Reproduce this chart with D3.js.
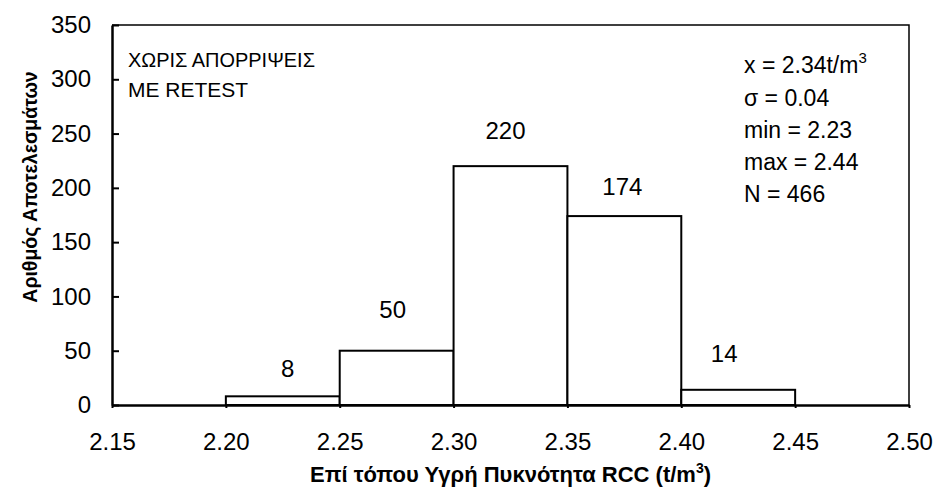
<!DOCTYPE html>
<html>
<head>
<meta charset="utf-8">
<script src="https://cdn.jsdelivr.net/npm/d3@7"></script>
<style>
  html, body { margin: 0; padding: 0; background: #fff; }
  svg text { font-family: "Liberation Sans", Arial, sans-serif; fill: #000; }
</style>
</head>
<body>
<svg id="chart" width="933" height="490"></svg>
<script>
// Histogram of in-situ wet density of RCC (bins of 0.05 t/m3)
const binStarts = [2.20, 2.25, 2.30, 2.35, 2.40];
const binWidth = 0.05;
const counts = [8, 50, 220, 174, 14];
const xTicks = [2.15, 2.20, 2.25, 2.30, 2.35, 2.40, 2.45, 2.50];
const yTicks = [0, 50, 100, 150, 200, 250, 300, 350];
const noteLines = ["ΧΩΡΙΣ ΑΠΟΡΡΙΨΕΙΣ", "ΜΕ  RETEST"];
const statLines = ["σ = 0.04", "min = 2.23", "max = 2.44", "N = 466"];

const svg = d3.select("#chart");
const margin = { left: 112, right: 24, top: 25, bottom: 85 };
const W = 933, H = 490;
const x = d3.scaleLinear().domain([2.15, 2.50]).range([margin.left, W - margin.right]);
const y = d3.scaleLinear().domain([0, 350]).range([H - margin.bottom, margin.top]);

const fs = 24;

// frame on the top and right
svg.append("path")
  .attr("d", `M${x(2.15)},${y(350)} H${x(2.50)} V${y(0)}`)
  .attr("fill", "none").attr("stroke", "#000").attr("stroke-width", 1.5);

// bars
const bins = binStarts.map((s, i) => ({ x0: s, x1: s + binWidth, n: counts[i] }));
svg.append("g").selectAll("rect").data(bins).join("rect")
  .attr("x", d => x(d.x0))
  .attr("y", d => y(d.n))
  .attr("width", d => x(d.x1) - x(d.x0))
  .attr("height", d => y(0) - y(d.n))
  .attr("fill", "#fff").attr("stroke", "#000").attr("stroke-width", 2);

// y axis
const yAxis = svg.append("g").attr("transform", `translate(${x(2.15)},0)`)
  .call(d3.axisLeft(y).tickValues(yTicks).tickSizeInner(-7).tickSizeOuter(0).tickPadding(21));
yAxis.select(".domain").attr("stroke-width", 2.5);
yAxis.selectAll(".tick line").attr("stroke-width", 2);
yAxis.selectAll("text").attr("font-size", fs);

// x axis
const xAxis = svg.append("g").attr("transform", `translate(0,${y(0)})`)
  .call(d3.axisBottom(x).tickValues(xTicks).tickFormat(d3.format(".2f")).tickSizeInner(3).tickSizeOuter(0).tickPadding(25));
xAxis.select(".domain").attr("stroke-width", 2.5);
xAxis.selectAll(".tick line").attr("stroke-width", 2);
xAxis.selectAll("text").attr("font-size", fs);

// value labels above each bar (small hand nudges per label)
const labelNudgeX = [5, -4, -5, -2, -14];
const labelRise = [28, 41, 36, 30, 36];
svg.append("g").selectAll("text").data(bins).join("text")
  .attr("x", (d, i) => x((d.x0 + d.x1) / 2) + labelNudgeX[i])
  .attr("y", (d, i) => y(d.n) - labelRise[i])
  .attr("dy", "0.36em")
  .attr("text-anchor", "middle")
  .attr("font-size", fs)
  .text(d => d.n);

// note in the upper-left corner
const noteWidths = [187, 120];
svg.append("g").selectAll("text").data(noteLines).join("text")
  .attr("x", 128)
  .attr("y", (d, i) => 67 + i * 30)
  .attr("font-size", 21)
  .attr("textLength", (d, i) => noteWidths[i])
  .attr("lengthAdjust", "spacingAndGlyphs")
  .text(d => d);

// summary statistics
const stats = svg.append("g").attr("font-size", 23);
const first = stats.append("text").attr("x", 744).attr("y", 73);
first.append("tspan").text("x = 2.34t/m");
first.append("tspan").attr("font-size", 15).attr("dy", -10).text("3");
stats.selectAll("text.s").data(statLines).join("text").attr("class", "s")
  .attr("x", 744)
  .attr("y", (d, i) => 106 + i * 32)
  .text(d => d);

// axis titles
const xt = svg.append("text")
  .attr("x", (x(2.15) + x(2.50)) / 2).attr("y", 482)
  .attr("text-anchor", "middle").attr("font-size", 22).attr("font-weight", "bold");
xt.append("tspan").text("Επί τόπου Υγρή Πυκνότητα RCC (t/m");
xt.append("tspan").attr("font-size", 14).attr("dy", -9).text("3");
xt.append("tspan").attr("dy", 9).text(")");

svg.append("text")
  .attr("transform", `translate(37,187) rotate(-90)`)
  .attr("text-anchor", "middle").attr("font-size", 19.5).attr("font-weight", "bold")
  .text("Αριθμός Αποτελεσμάτων");
</script>
</body>
</html>
